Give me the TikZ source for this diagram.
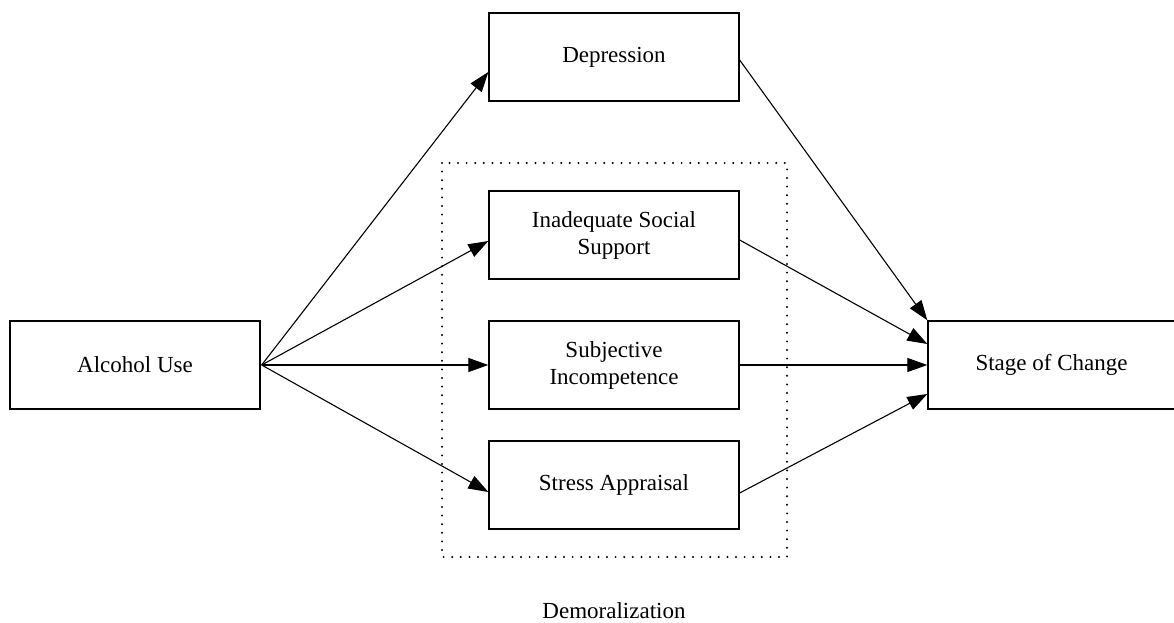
\documentclass[tikz,border=0pt]{standalone}
\usepackage{fontspec}
\setmainfont{Liberation Serif}
\usetikzlibrary{arrows.meta}
\begin{document}
\begin{tikzpicture}[x=1pt,y=-1pt,
  box/.style={draw,line width=1.3pt,minimum width=250pt,minimum height=88pt,inner sep=0pt,align=center,font=\fontsize{23}{27}\selectfont},
  conn/.style={line width=1.1pt,-{Triangle[length=20pt,width=14pt]}},
  dotbox/.style={line width=2.2pt,line cap=round,dash pattern=on 0pt off 8.6pt}]
\useasboundingbox (0,0) rectangle (1174,623);
\node[box] (alc) at (135,365) {Alcohol Use};
\node[box] (dep) at (614,57) {Depression};
\node[box] (ina) at (614,235) {Inadequate Social\\Support};
\node[box] (sub) at (614,365) {Subjective\\Incompetence};
\node[box] (str) at (614,485) {Stress Appraisal};
\node[box,minimum width=247pt] (stg) at (1051.5,365) {Stage of Change};
\draw[dotbox] (442,163) rectangle (787,557);
\node[font=\fontsize{23}{27}\selectfont] (dem) at (614,611) {Demoralization};
\coordinate (o) at ([xshift=1pt]alc.east);
\draw[conn] (o) -- ([yshift=-15pt]dep.west);
\draw[conn] (o) -- ([yshift=-6pt]ina.west);
\draw[conn] (o) -- (sub.west);
\draw[conn] (o) -- ([yshift=-7pt]str.west);
\draw[conn] ([yshift=-3pt]dep.east) -- (stg.north west);
\draw[conn] ([yshift=-5pt]ina.east) -- ([yshift=21pt]stg.west);
\draw[conn] (sub.east) -- (stg.west);
\draw[conn] ([yshift=-8pt]str.east) -- ([yshift=-29pt]stg.west);
\end{tikzpicture}
\end{document}
